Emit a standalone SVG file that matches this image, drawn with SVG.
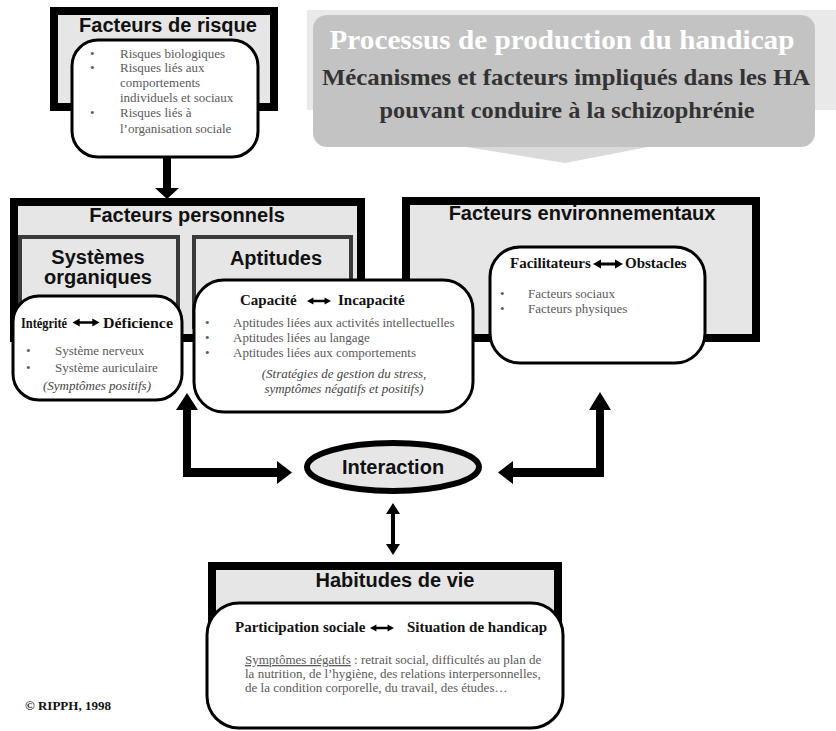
<svg xmlns="http://www.w3.org/2000/svg" width="836" height="731" viewBox="0 0 836 731">
<defs>
<style>
.frame{fill:#e6e6e6;stroke:#000;stroke-width:8}
.sub{fill:#e6e6e6;stroke:#3a3a3a;stroke-width:4}
.card{fill:#fff;stroke:#000;stroke-width:3}
.h{font-family:"Liberation Sans",Arial,sans-serif;font-weight:bold;font-size:20px;fill:#111;text-anchor:middle}
.b{font-family:"Liberation Serif","Times New Roman",serif;font-weight:bold;font-size:15px;fill:#111}
.t{font-family:"Liberation Serif","Times New Roman",serif;font-size:13px;fill:#5a5a5a}
.i{font-family:"Liberation Serif","Times New Roman",serif;font-style:italic;font-size:13px;fill:#444}
.arr{fill:#000}
</style>
<symbol id="dbl" viewBox="0 0 30 10" overflow="visible">
<path d="M0,5 L8,0.5 L8,3.5 L22,3.5 L22,0.5 L30,5 L22,9.5 L22,6.5 L8,6.5 L8,9.5 Z" fill="#000"/>
</symbol>
</defs>
<rect width="836" height="731" fill="#fff"/>

<g id="title">
<rect x="307" y="10" width="529" height="100" fill="#e9e9e9"/>
<polygon points="460,146 653,146 565,163" fill="#dadada"/>
<rect x="313" y="15" width="502" height="132" rx="14" fill="#c3c3c3"/>
<text x="562" y="49" font-family="Liberation Serif,serif" font-weight="bold" font-size="27" fill="#fff" text-anchor="middle" textLength="465" lengthAdjust="spacingAndGlyphs">Processus de production du handicap</text>
<text x="566" y="85" font-family="Liberation Serif,serif" font-weight="bold" font-size="23" fill="#333" text-anchor="middle" textLength="488" lengthAdjust="spacingAndGlyphs">Mécanismes et facteurs impliqués dans les HA</text>
<text x="567" y="118" font-family="Liberation Serif,serif" font-weight="bold" font-size="23" fill="#333" text-anchor="middle" textLength="375" lengthAdjust="spacingAndGlyphs">pouvant conduire à la schizophrénie</text>
</g>

<g id="connectors">
<path class="arr" d="M163,155 L171,155 L171,188 L179,188 L167,199 L155,188 L163,188 Z"/>
<path class="arr" d="M157,273 L173,259 L173,269 L197,269 L197,259 L213,273 L197,287 L197,277 L173,277 L173,287 Z"/>
<path class="arr" d="M183,410 L176,410 L187,393 L198,410 L191,410 L191,468 L277,468 L277,461 L292,472.5 L277,484 L277,477 L183,477 Z"/>
<path class="arr" d="M498,472.5 L513,461 L513,468 L596,468 L596,410 L589,410 L600,392 L611,410 L604,410 L604,477 L513,477 L513,484 Z"/>
<path class="arr" d="M393,503 L400,514 L395,514 L395,544 L400,544 L393,555 L386,544 L391,544 L391,514 L386,514 Z"/>
</g>

<g id="risque">
<rect class="frame" x="54" y="11" width="220" height="96"/>
<text class="h" x="168" y="32">Facteurs de risque</text>
<rect class="card" x="72" y="40" width="186" height="117" rx="26"/>
<g class="t">
<text x="90" y="58">•</text><text x="120" y="58">Risques biologiques</text>
<text x="90" y="72">•</text><text x="120" y="72">Risques liés aux</text>
<text x="120" y="87">comportements</text>
<text x="120" y="102">individuels et sociaux</text>
<text x="90" y="117">•</text><text x="120" y="117">Risques liés à</text>
<text x="120" y="133">l’organisation sociale</text>
</g>
</g>

<g id="personnels">
<rect class="frame" x="14" y="202" width="347" height="136"/>
<text class="h" x="187" y="222">Facteurs personnels</text>
</g>

<g id="systemes">
<rect class="sub" x="20" y="237" width="158" height="90"/>
<text class="h" x="98" y="264" font-size="19.5">Systèmes</text>
<text class="h" x="98" y="284" font-size="19.5">organiques</text>
</g>

<g id="aptitudes">
<rect class="sub" x="194" y="237" width="157" height="90"/>
<text class="h" x="276" y="265" font-size="18">Aptitudes</text>
</g>

<g id="environnementaux">
<rect class="frame" x="406" y="201" width="350" height="137"/>
<text class="h" x="582" y="220">Facteurs environnementaux</text>
<rect class="card" x="490" y="247" width="215" height="116" rx="30"/>
<text class="b" x="510" y="268">Facilitateurs</text>
<use href="#dbl" x="591" y="259" width="34" height="10"/>
<text class="b" x="625" y="268">Obstacles</text>
<g class="t">
<text x="500" y="298">•</text><text x="528" y="298">Facteurs sociaux</text>
<text x="500" y="313">•</text><text x="528" y="313">Facteurs physiques</text>
</g>
</g>

<g id="integrite">
<rect class="card" x="13" y="296" width="169" height="104" rx="26"/>
<text class="b" x="21" y="328" font-size="14" textLength="46" lengthAdjust="spacingAndGlyphs">Intégrité</text>
<use href="#dbl" x="70" y="318" width="32" height="9"/>
<text class="b" x="103" y="328" font-size="15" textLength="70" lengthAdjust="spacingAndGlyphs">Déficience</text>
<g class="t">
<text x="26" y="355">•</text><text x="55" y="355">Système nerveux</text>
<text x="26" y="372">•</text><text x="55" y="372">Système auriculaire</text>
</g>
<text class="i" x="97" y="390" text-anchor="middle">(Symptômes positifs)</text>
</g>

<g id="capacite">
<rect class="card" x="194" y="280" width="279" height="132" rx="30"/>
<text class="b" x="240" y="305">Capacité</text>
<use href="#dbl" x="305" y="297" width="28" height="8"/>
<text class="b" x="338" y="305">Incapacité</text>
<g class="t">
<text x="205" y="327">•</text><text x="233" y="327">Aptitudes liées aux activités intellectuelles</text>
<text x="205" y="342">•</text><text x="233" y="342">Aptitudes liées au langage</text>
<text x="205" y="357">•</text><text x="233" y="357">Aptitudes liées aux comportements</text>
</g>
<text class="i" x="344" y="378" text-anchor="middle">(Stratégies de gestion du stress,</text>
<text class="i" x="344" y="393" text-anchor="middle">symptômes négatifs et  positifs)</text>
</g>

<g id="interaction">
<ellipse cx="393" cy="467" rx="86" ry="24" fill="#e6e6e6" stroke="#000" stroke-width="6"/>
<text class="h" x="393" y="474">Interaction</text>
</g>

<g id="habitudes">
<rect class="frame" x="212" y="566" width="346" height="90"/>
<text class="h" x="395" y="587">Habitudes de vie</text>
<rect class="card" x="207" y="603" width="356" height="125" rx="32"/>
<text class="b" x="235" y="632">Participation sociale</text>
<use href="#dbl" x="367" y="624" width="30" height="8"/>
<text class="b" x="407" y="632">Situation de handicap</text>
<g class="t">
<text x="245" y="664"><tspan text-decoration="underline">Symptômes négatifs</tspan> : retrait social, difficultés au plan de</text>
<text x="245" y="678">la nutrition, de l’hygiène, des relations interpersonnelles,</text>
<text x="245" y="692">de la condition corporelle, du travail, des études…</text>
</g>
</g>

<g id="copyright">
<text x="25" y="710" font-family="Liberation Serif,serif" font-weight="bold" font-size="13" fill="#111">© RIPPH, 1998</text>
</g>
</svg>
